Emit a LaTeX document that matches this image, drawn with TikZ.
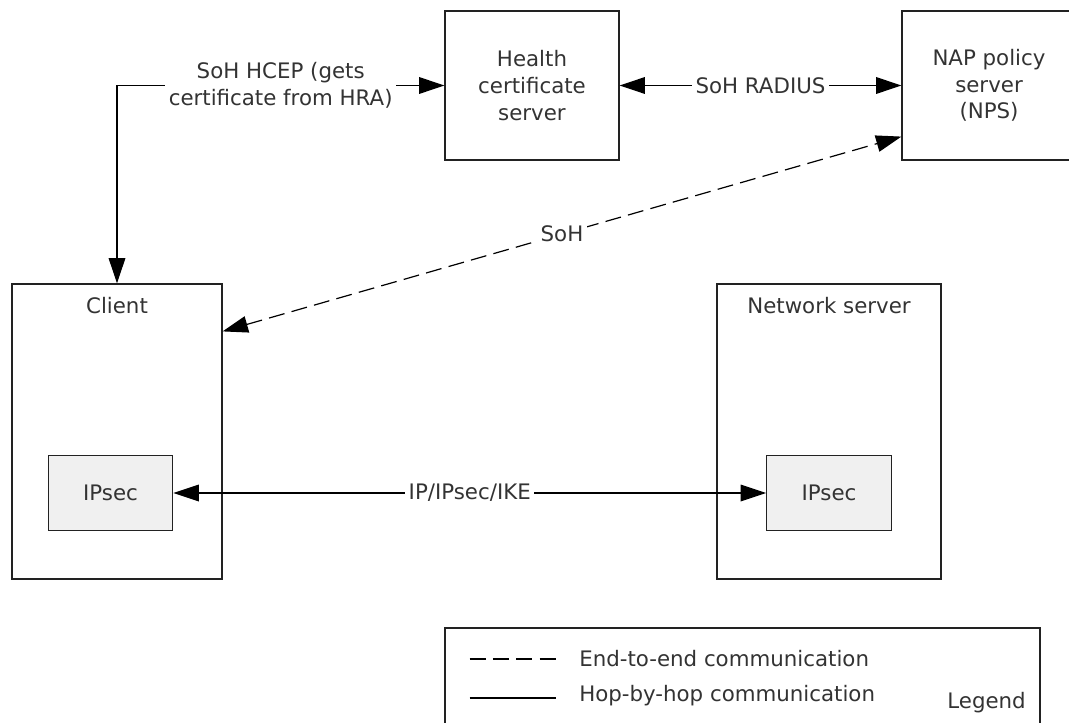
\documentclass[tikz,border=0pt]{standalone}
\usepackage{fontspec}
\setmainfont{DejaVu Sans}
\usetikzlibrary{arrows.meta}
\usetikzlibrary{calc}
\definecolor{txtgray}{RGB}{51,51,51}
\definecolor{linegray}{RGB}{34,34,34}
\definecolor{ipsecfill}{RGB}{240,240,240}

\begin{document}
\begin{tikzpicture}[x=0.75pt,y=-0.75pt,
		every node/.style={font=\fontsize{16}{20}\selectfont, text=txtgray},
		box/.style={draw=linegray, line width=0.9pt, inner sep=0pt, align=center},
		hop/.style={draw=black, line width=0.9pt, {Triangle[length=19pt,width=12.5pt]}-{Triangle[length=19pt,width=12.5pt]}},
		e2e/.style={hop, dash pattern=on 12pt off 5.5pt},
		lbl/.style={fill=white, inner sep=2.5pt, align=center}]
		\useasboundingbox (0,0) rectangle (1069,723);
		
		\node[box, minimum width=130.5pt, minimum height=111.75pt] (hcs) at (532,85.5) {Health\\certificate\\server};
		\node[box, minimum width=130.5pt, minimum height=111.75pt] (nps) at (989,85.5) {NAP policy\\server\\(NPS)};
		
		\node[box, minimum width=157.5pt, minimum height=221.25pt] (client) at (117,431.5) {};
		\node (clientname) at (117,306) {Client};
		\node[box, minimum width=168pt, minimum height=221.25pt] (netsrv) at (829,431.5) {};
		\node (netsrvname) at (829,306) {Network server};
		
		\node[box, fill=ipsecfill, minimum width=93.5pt, minimum height=56.25pt] (ipsecC) at (110.5,493) {IPsec};
		\node[box, fill=ipsecfill, minimum width=93.5pt, minimum height=56.25pt] (ipsecN) at (829,493) {IPsec};
		
		\draw[hop] (hcs.west) -| node[lbl, pos=0.25] {SoH HCEP (gets\\certificate from HRA)} (client.north);
		\draw[hop] (hcs.east) -- node[lbl] {SoH RADIUS} (nps.west);
		\draw[e2e] ($(client.north east)+(0,48)$) -- node[lbl] {SoH} ($(nps.south west)+(0,-24)$);
		\draw[hop] (ipsecC.east) -- node[lbl] {IP/IPsec/IKE} (ipsecN.west);
		
		% legend
		\draw[linegray, line width=0.9pt] (445,735) |- (1040,628) -- (1040,735);
		\coordinate (e2eA) at (469.5,659);
		\coordinate (e2eB) at (556,659);
		\coordinate (hopA) at (469.5,698);
		\coordinate (hopB) at (556,698);
		\draw[line width=0.9pt, dash pattern=on 12pt off 5.5pt] (e2eA) -- (e2eB);
		\draw[line width=0.9pt] (hopA) -- (hopB);
		\node[anchor=west, inner sep=0pt] (e2etext) at (579,659) {End-to-end communication};
		\node[anchor=west, inner sep=0pt] (hoptext) at (579,696) {Hop-by-hop communication};
		\node[anchor=east, inner sep=0pt] (legendname) at (1026,703) {Legend};
	\end{tikzpicture}
\end{document}
